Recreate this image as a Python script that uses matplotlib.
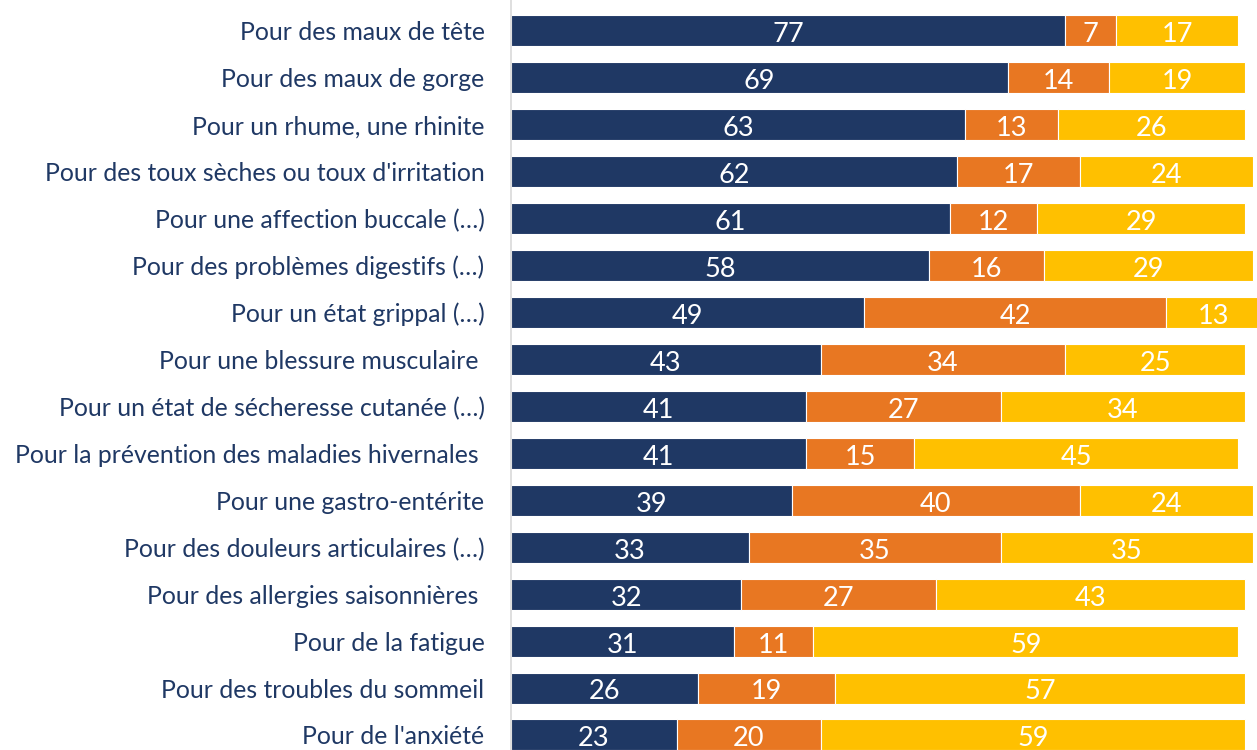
import matplotlib.pyplot as plt
import numpy as np

# Data
labels = ["Pour des maux de tête", "Pour des maux de gorge", "Pour un rhume, une rhinite",
          "Pour des toux sèches ou toux d'irritation", "Pour une affection buccale (…)",
          "Pour des problèmes digestifs (…)", "Pour un état grippal (…)",
          "Pour une blessure musculaire ", "Pour un état de sécheresse cutanée (…)",
          "Pour la prévention des maladies hivernales ", "Pour une gastro-entérite",
          "Pour des douleurs articulaires (…)", "Pour des allergies saisonnières ",
          "Pour de la fatigue", "Pour des troubles du sommeil", "Pour de l'anxiété"]
serie1 = [77, 69, 63, 62, 61, 58, 49, 43, 41, 41, 39, 33, 32, 31, 26, 23]
serie2 = [7, 14, 13, 17, 12, 16, 42, 34, 27, 15, 40, 35, 27, 11, 19, 20]
serie3 = [17, 19, 26, 24, 29, 29, 13, 25, 34, 45, 24, 35, 43, 59, 57, 59]

colors = ["#1F3864", "#E87722", "#FFC000"]
plt.rcParams['font.family'] = ['Lato', 'DejaVu Sans']

fig = plt.figure(figsize=(12.57, 7.5), dpi=100)
ax = fig.add_axes([511 / 1257, 0, 1 - 511 / 1257, 1])

y = np.arange(len(labels))
left = np.zeros(len(labels))
for vals, col in zip([serie1, serie2, serie3], colors):
    vals = np.array(vals)
    ax.barh(y, vals, left=left, height=0.66, color=col, edgecolor="white", linewidth=0.8)
    for yi, l, v in zip(y, left, vals):
        ax.text(l + v / 2, yi + 0.03, str(v), ha="center", va="center_baseline",
                color="white", fontsize=19.5)
    left = left + vals

ax.set_xlim(0, 103.6)
ax.set_ylim(15.32, -0.66)
ax.set_yticks(y)
ax.set_yticklabels(labels, fontsize=17.8, color="#1F3864")
ax.tick_params(axis="y", length=0, pad=19)
ax.set_xticks([])
for s in ["top", "right", "bottom"]:
    ax.spines[s].set_visible(False)
ax.spines["left"].set_color("#D9D9D9")
ax.spines["left"].set_linewidth(1.2)

plt.savefig("out.png")
